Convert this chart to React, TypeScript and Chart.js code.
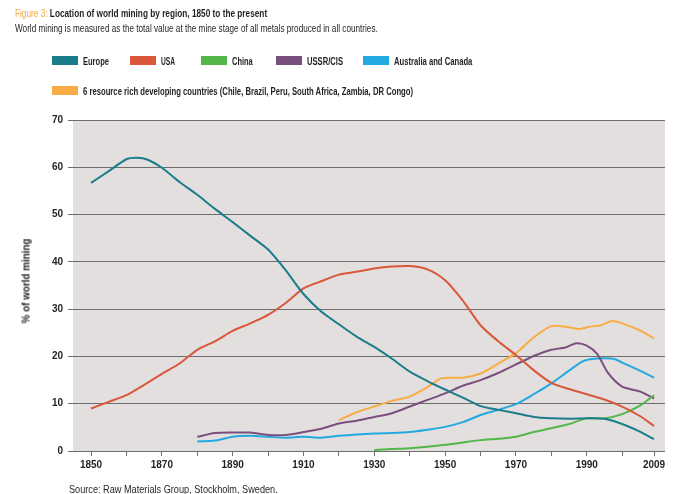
import React, { useEffect, useLayoutEffect, useRef, useState } from "react";
import { Chart, registerables } from "chart.js";

Chart.register(...registerables);

// ---------- DATA ----------
const seriesNames = [
  "Europe",
  "USA",
  "China",
  "USSR/CIS",
  "Australia and Canada",
  "6 resource rich developing countries (Chile, Brazil, Peru, South Africa, Zambia, DR Congo)",
];
const seriesColors = ["#1b7c8c", "#d9573b", "#52b648", "#7a4f7e", "#22a9e0", "#f8ad44"];

const europeYears = [1850, 1855, 1860, 1863, 1866, 1870, 1875, 1880, 1885, 1890, 1895, 1900, 1905, 1910, 1915, 1920, 1925, 1930, 1935, 1940, 1945, 1950, 1955, 1960, 1965, 1970, 1975, 1980, 1985, 1990, 1995, 2000, 2005, 2009];
const europeValues = [56.7, 59.2, 61.7, 62.0, 61.6, 59.9, 56.9, 54.2, 51.2, 48.4, 45.5, 42.6, 38.2, 33.2, 29.5, 26.8, 24.2, 22.0, 19.5, 16.8, 14.8, 13.0, 11.3, 9.5, 8.7, 8.0, 7.2, 6.9, 6.8, 6.9, 6.8, 5.7, 4.1, 2.5];

const usaYears = [1850, 1855, 1860, 1865, 1870, 1875, 1880, 1885, 1890, 1895, 1900, 1905, 1910, 1915, 1920, 1925, 1930, 1935, 1940, 1945, 1950, 1955, 1960, 1965, 1970, 1975, 1980, 1985, 1990, 1995, 2000, 2005, 2009];
const usaValues = [9.0, 10.4, 11.8, 14.0, 16.3, 18.5, 21.4, 23.2, 25.4, 27.0, 28.8, 31.3, 34.4, 35.9, 37.3, 37.9, 38.6, 39.0, 39.1, 38.4, 36.1, 31.8, 26.6, 23.2, 20.3, 17.1, 14.4, 13.1, 12.0, 10.9, 9.4, 7.4, 5.3];

const chinaYears = [1930, 1935, 1940, 1945, 1950, 1955, 1960, 1965, 1970, 1975, 1980, 1985, 1990, 1995, 2000, 2005, 2009];
const chinaValues = [0.2, 0.4, 0.6, 0.9, 1.3, 1.8, 2.3, 2.6, 3.0, 4.0, 4.8, 5.7, 6.9, 6.9, 7.8, 9.6, 11.8];

const ussrYears = [1880, 1885, 1890, 1895, 1900, 1905, 1910, 1915, 1920, 1925, 1930, 1935, 1940, 1945, 1950, 1955, 1960, 1965, 1970, 1975, 1980, 1984, 1987, 1990, 1993, 1996, 2000, 2005, 2009];
const ussrValues = [3.0, 3.8, 3.9, 3.9, 3.4, 3.4, 4.0, 4.7, 5.8, 6.4, 7.2, 8.0, 9.4, 10.8, 12.2, 13.8, 15.0, 16.5, 18.3, 20.1, 21.4, 21.9, 22.8, 22.3, 20.5, 16.5, 13.6, 12.6, 11.1];

const ausCanYears = [1880, 1885, 1890, 1895, 1900, 1905, 1910, 1915, 1920, 1925, 1930, 1935, 1940, 1945, 1950, 1955, 1960, 1965, 1970, 1975, 1980, 1985, 1989, 1992, 1995, 1998, 2000, 2005, 2009];
const ausCanValues = [2.0, 2.2, 3.0, 3.2, 3.0, 2.8, 3.0, 2.8, 3.2, 3.5, 3.7, 3.8, 4.0, 4.5, 5.1, 6.1, 7.6, 8.7, 9.9, 12.0, 14.3, 17.0, 19.0, 19.5, 19.6, 19.4, 18.7, 17.0, 15.5];

const resourceYears = [1920, 1925, 1930, 1935, 1940, 1945, 1949, 1955, 1960, 1965, 1970, 1975, 1980, 1984, 1988, 1991, 1994, 1997, 2000, 2005, 2009];
const resourceValues = [6.5, 8.2, 9.4, 10.6, 11.5, 13.5, 15.4, 15.5, 16.4, 18.5, 20.7, 24.0, 26.4, 26.3, 25.8, 26.3, 26.6, 27.5, 27.0, 25.5, 23.8];

const seriesYears = [europeYears, usaYears, chinaYears, ussrYears, ausCanYears, resourceYears];
const seriesValues = [europeValues, usaValues, chinaValues, ussrValues, ausCanValues, resourceValues];

const xTickYears = [1850, 1860, 1870, 1880, 1890, 1900, 1910, 1920, 1930, 1940, 1950, 1960, 1970, 1980, 1990, 2000, 2009];
const xTickLabels = ["1850", "", "1870", "", "1890", "", "1910", "", "1930", "", "1950", "", "1970", "", "1990", "", "2009"];
const yTicks = [0, 10, 20, 30, 40, 50, 60, 70];

const titleLead = "Figure 3:";
const titleText = "Location of world mining by region, 1850 to the present";
const subtitleText = "World mining is measured as the total value at the mine stage of all metals produced in all countries.";
const yAxisTitle = "% of world mining";
const sourceText = "Source: Raw Materials Group, Stockholm, Sweden.";

// ---------- STYLE ----------
const FONT = "'Liberation Sans', Arial, sans-serif";
const TEXT = "#231f20";
const GRID = "#6e6e6e";
const PLOT_BG = "#e3dfdf";

type FitProps = {
  x: number;
  y: number;
  width: number;
  size: number;
  weight?: string;
  color?: string;
  rotate?: boolean;
  children: React.ReactNode;
};

function FitText({ x, y, width, size, weight = "normal", color = TEXT, rotate = false, children }: FitProps) {
  const ref = useRef<HTMLSpanElement>(null);
  const [k, setK] = useState(1);
  useLayoutEffect(() => {
    const measure = () => {
      const el = ref.current;
      if (!el) return;
      const w = el.offsetWidth;
      if (w > 0) setK(width / w);
    };
    measure();
    if ((document as any).fonts && (document as any).fonts.ready) {
      (document as any).fonts.ready.then(measure);
    }
  }, [width]);
  const base: React.CSSProperties = {
    position: "absolute",
    whiteSpace: "nowrap",
    fontFamily: FONT,
    fontSize: size + "px",
    lineHeight: size + "px",
    fontWeight: weight as any,
    color,
  };
  const style: React.CSSProperties = rotate
    ? {
        ...base,
        left: x,
        top: y,
        transform: `translate(-50%, -50%) rotate(-90deg) scaleX(${k})`,
        transformOrigin: "center center",
      }
    : {
        ...base,
        left: x,
        top: y - 0.49 * size,
        transform: `scaleX(${k})`,
        transformOrigin: "left center",
      };
  return (
    <span ref={ref} style={style}>
      {children}
    </span>
  );
}

const legendLayout = [
  { sx: 52, row: 0, tw: 26 },
  { sx: 130, row: 0, tw: 14 },
  { sx: 201, row: 0, tw: 21 },
  { sx: 276, row: 0, tw: 36 },
  { sx: 363, row: 0, tw: 78 },
  { sx: 52, row: 1, tw: 330 },
];
const legendRowY = [60.5, 90.3];

export default function App() {
  const canvasRef = useRef<HTMLCanvasElement>(null);

  useEffect(() => {
    const canvas = canvasRef.current;
    if (!canvas) return;

    const bgPlugin = {
      id: "plotBg",
      beforeDraw(chart: any) {
        const { ctx, chartArea } = chart;
        ctx.save();
        ctx.fillStyle = PLOT_BG;
        ctx.fillRect(chartArea.left, chartArea.top, chartArea.right - chartArea.left, chartArea.bottom - chartArea.top);
        ctx.restore();
      },
    };

    const datasets = seriesNames.map((name, i) => ({
      label: name,
      data: seriesYears[i].map((yr, j) => ({ x: yr, y: seriesValues[i][j] })),
      borderColor: seriesColors[i],
      backgroundColor: seriesColors[i],
      borderWidth: 2,
      pointRadius: 0,
      tension: 0.25,
      fill: false,
    }));

    const tickFont = { family: FONT, size: 10, weight: "bold" as const };

    const chart = new Chart(canvas, {
      type: "line",
      data: { datasets },
      options: {
        responsive: false,
        animation: false,
        layout: { padding: { left: 0, top: 120, right: 24, bottom: 0 } },
        plugins: {
          legend: { display: false },
          tooltip: { enabled: false },
          title: { display: false },
        },
        scales: {
          x: {
            type: "linear",
            min: 1844.9,
            max: 2012.1,
            afterBuildTicks: (scale: any) => {
              scale.ticks = xTickYears.map((v) => ({ value: v }));
            },
            afterFit: (scale: any) => {
              scale.height = 43;
            },
            ticks: {
              autoSkip: false,
              maxRotation: 0,
              minRotation: 0,
              padding: 3,
              color: TEXT,
              font: tickFont,
              callback: (value: any) => {
                const idx = xTickYears.indexOf(Number(value));
                return idx >= 0 ? xTickLabels[idx] : "";
              },
            },
            grid: {
              drawOnChartArea: false,
              drawTicks: true,
              tickLength: 5,
              color: GRID,
              lineWidth: 1,
            },
            border: { display: false },
          },
          y: {
            min: 0,
            max: 70,
            afterBuildTicks: (scale: any) => {
              scale.ticks = yTicks.map((v) => ({ value: v }));
            },
            afterFit: (scale: any) => {
              scale.width = 73;
            },
            ticks: {
              padding: 5,
              color: TEXT,
              font: tickFont,
            },
            grid: {
              color: GRID,
              lineWidth: 1,
              tickLength: 5,
              drawTicks: true,
            },
            border: { display: false },
          },
        },
      },
      plugins: [bgPlugin],
    });

    return () => chart.destroy();
  }, []);

  return (
    <div
      style={{
        position: "fixed",
        left: 0,
        top: 0,
        width: 689,
        height: 494,
        background: "#ffffff",
        overflow: "hidden",
      }}
    >
      <canvas ref={canvasRef} width={689} height={494} style={{ position: "absolute", left: 0, top: 0, width: 689, height: 494 }} />

      <FitText x={15} y={12.9} width={252} size={11} weight="bold">
        <span style={{ color: "#f5a73e", fontWeight: "normal" }}>{titleLead}</span> {titleText}
      </FitText>
      <FitText x={15} y={28.7} width={363} size={11}>
        {subtitleText}
      </FitText>

      {seriesNames.map((name, i) => {
        const l = legendLayout[i];
        const cy = legendRowY[l.row];
        return (
          <React.Fragment key={name}>
            <div
              style={{
                position: "absolute",
                left: l.sx,
                top: cy - 4.5,
                width: 26,
                height: 9,
                background: seriesColors[i],
              }}
            />
            <FitText x={l.sx + 31} y={cy + 0.7} width={l.tw} size={11} weight="bold">
              {name}
            </FitText>
          </React.Fragment>
        );
      })}

      <FitText x={26} y={281} width={85} size={11} weight="bold" rotate>
        {yAxisTitle}
      </FitText>

      <FitText x={69} y={488.9} width={209} size={11}>
        {sourceText}
      </FitText>
    </div>
  );
}
